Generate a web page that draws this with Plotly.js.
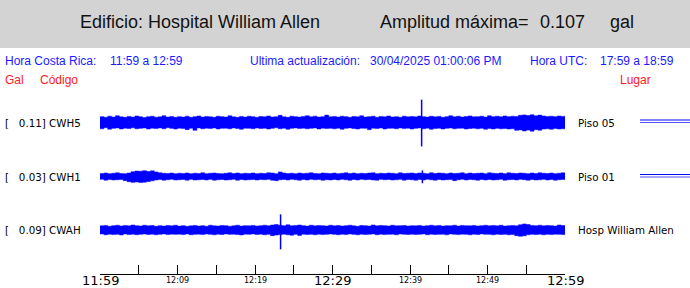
<!DOCTYPE html>
<html>
<head>
<meta charset="utf-8">
<script src="https://cdn.plot.ly/plotly-3.0.1.min.js"></script>
<style>html,body{margin:0;padding:0;background:#fff;}#chart{width:690px;height:288px;}</style>
</head>
<body>
<div id="chart"></div>
<script>
// ---- DATA (time in minutes after 11:59, amplitudes in mgal) ----
const stationCodes = ["CWH5", "CWH1", "CWAH"];
const stationMax = ["0.11", "0.03", "0.09"];
const stationPlaces = ["Piso 05", "Piso 01", "Hosp William Allen"];
const sampleStepMin = 0.5;

const cwh5Upper = [27,24,29,25,31,26,24,28,25,30,26,23,27,29,24,26,31,25,28,24,27,
  25,29,24,27,30,25,28,26,24,29,27,25,31,26,24,28,25,29,27,24,
  28,26,30,25,27,33,26,24,29,27,25,28,31,26,29,25,27,34,26,28,
  25,29,27,24,28,26,31,25,27,29,24,28,26,30,25,27,24,29,26,28,
  26,30,27,25,29,26,28,24,27,31,26,29,25,28,30,26,27,29,25,31,
  27,29,26,30,27,29,28,33,35,32,36,31,34,30,28,29,27,30,28,31];
const cwh5Lower = [-26,-29,-24,-31,-27,-25,-30,-26,-28,-24,-29,-27,-25,-30,-26,-28,-25,-29,-24,-27,-30,
  -26,-28,-33,-27,-36,-25,-29,-26,-28,-25,-30,-27,-26,-29,-25,-28,-31,-26,-27,-29,
  -25,-28,-26,-30,-27,-24,-29,-26,-31,-27,-25,-28,-26,-29,-27,-25,-30,-26,-28,-27,
  -29,-26,-31,-27,-25,-28,-30,-26,-27,-33,-26,-28,-25,-30,-27,-26,-29,-25,-28,-26,
  -30,-27,-25,-29,-26,-31,-28,-26,-30,-27,-25,-29,-27,-26,-30,-28,-26,-29,-27,-31,
  -28,-30,-27,-29,-28,-30,-29,-36,-34,-39,-35,-40,-33,-36,-30,-29,-31,-28,-30,-29];

const cwh1Upper = [14,16,13,15,17,14,13,16,22,25,24,27,23,26,21,17,15,14,16,13,15,
  14,16,13,15,14,17,13,15,16,14,13,15,17,14,16,13,15,14,16,13,
  15,14,17,16,13,21,16,14,15,13,16,14,15,17,14,13,16,15,14,16,
  13,15,17,14,16,13,15,14,16,17,13,15,14,16,15,13,17,14,15,16,
  14,16,15,13,17,14,16,15,13,16,14,15,17,13,16,14,15,16,13,17,
  15,14,16,13,17,15,14,16,15,13,16,14,17,15,14,16,13,15,17,16];
const cwh1Lower = [-15,-13,-17,-14,-16,-15,-14,-19,-24,-27,-25,-28,-26,-23,-20,-16,-14,-17,-15,-13,-16,
  -15,-14,-17,-13,-16,-15,-14,-16,-13,-17,-15,-14,-16,-15,-13,-17,-14,-16,-15,-14,
  -16,-14,-15,-13,-17,-19,-15,-14,-16,-13,-15,-17,-14,-16,-13,-15,-14,-17,-15,-16,
  -14,-16,-13,-15,-17,-14,-16,-13,-15,-14,-16,-17,-13,-15,-14,-16,-15,-13,-17,-14,
  -15,-17,-14,-16,-13,-15,-17,-14,-16,-15,-14,-19,-15,-13,-16,-14,-15,-17,-14,-16,
  -14,-16,-15,-13,-17,-15,-14,-16,-13,-15,-17,-14,-16,-15,-13,-16,-14,-17,-15,-14];

const cwahUpper = [19,21,17,20,22,18,21,19,23,20,18,22,19,21,17,20,18,21,19,22,18,
  20,17,19,21,18,20,17,22,19,18,21,20,17,19,22,18,20,19,21,18,
  20,22,19,23,25,22,20,24,19,21,23,20,18,22,19,21,20,18,22,19,
  21,18,20,22,19,17,21,20,18,23,19,21,20,18,22,19,20,21,18,20,
  19,21,18,20,22,19,21,18,20,19,22,18,21,20,19,21,18,20,22,19,
  21,19,22,18,20,21,19,24,28,25,21,20,22,19,21,20,18,23,21,20];
const cwahLower = [-20,-18,-22,-19,-21,-20,-23,-18,-21,-19,-22,-20,-18,-21,-19,-22,-20,-18,-21,-19,-20,
  -19,-21,-18,-22,-20,-19,-21,-18,-20,-22,-19,-21,-18,-20,-19,-21,-23,-19,-20,-18,
  -21,-19,-22,-20,-26,-23,-21,-19,-22,-24,-20,-25,-19,-21,-20,-22,-19,-21,-20,-18,
  -20,-22,-19,-21,-18,-20,-22,-19,-21,-20,-18,-22,-19,-21,-20,-19,-22,-18,-20,-21,
  -19,-21,-20,-18,-22,-19,-21,-20,-19,-22,-18,-20,-21,-19,-20,-22,-19,-21,-18,-20,
  -20,-22,-19,-21,-20,-22,-21,-26,-29,-27,-22,-20,-21,-19,-22,-20,-21,-19,-20,-21];

// isolated spikes: time (min), peak up, peak down (mgal)
const spikeTimes = [41.5, 41.6, 23.3];
const spikeUp = [105, 28, 72];
const spikeDown = [-110, -31, -89];

const tickVals = [0, 10, 20, 30, 40, 50, 60];
const tickLabels = ["11:59", "12:09", "12:19", "12:29", "12:39", "12:49", "12:59"];
const majorTicks = ["11:59", "12:29", "12:59"];

// ---- LAYOUT HELPERS ----
const W = 690, H = 288, ML = 100, MR = 125, MT = 90, MB = 14;
const PW = W - ML - MR, PH = H - MT - MB;
const px = x => (x - ML) / PW;
const py = y => 1 - (y - MT) / PH;
const mgalPerPx = 4.6;
const yTop = PH * mgalPerPx;
const baseY = [122.5, 176.5, 230]; // pixel rows of trace baselines
const offsets = baseY.map(b => yTop - (b - MT) * mgalPerPx);

const uppers = [cwh5Upper, cwh1Upper, cwahUpper];
const lowers = [cwh5Lower, cwh1Lower, cwahLower];
const BLUE = "#0000ff";
const traces = [];
uppers.forEach((up, k) => {
  const lo = lowers[k];
  const t = up.map((_, i) => i * sampleStepMin);
  const xs = t.concat(t.slice().reverse());
  const ys = up.map(v => offsets[k] + v).concat(lo.slice().reverse().map(v => offsets[k] + v));
  traces.push({x: xs, y: ys, type: "scatter", mode: "lines", fill: "toself",
    fillcolor: BLUE, line: {color: BLUE, width: 0.5, shape: "hv"}, hoverinfo: "skip", showlegend: false});
  traces.push({x: [spikeTimes[k], spikeTimes[k]], y: [offsets[k] + spikeUp[k], offsets[k] + spikeDown[k]],
    type: "scatter", mode: "lines", line: {color: BLUE, width: 1.5}, hoverinfo: "skip", showlegend: false});
});

const ann = [];
const A = (text, x, y, size, color, family, anchor) => ann.push({
  text, xref: "paper", yref: "paper", x: px(x), y: py(y), xanchor: anchor || "left", yanchor: "middle",
  showarrow: false, borderpad: 0, font: {size, color, family}});
const SANS = "Liberation Sans, Arial, sans-serif";
const DJ = "DejaVu Sans, sans-serif";
A("Edificio: Hospital William Allen", 79, 22, 18, "#111", SANS);
A("Amplitud máxima=", 379, 22, 18, "#111", SANS);
A("0.107", 539, 22, 18, "#111", SANS);
A("gal", 609, 22, 18, "#111", SANS);
A("Hora Costa Rica:", 4, 61, 12, "#1a1aff", SANS);
A("11:59 a 12:59", 109, 61, 12, "#1a1aff", SANS);
A("Ultima actualización:", 249, 61, 12, "#1a1aff", SANS);
A("30/04/2025 01:00:06 PM", 369, 61, 12, "#1a1aff", SANS);
A("Hora UTC:", 529, 61, 12, "#1a1aff", SANS);
A("17:59 a 18:59", 599, 61, 12, "#1a1aff", SANS);
A("Gal", 4, 80, 12, "#ff1a1a", SANS);
A("Código", 39, 80, 12, "#ff1a1a", SANS);
A("Lugar", 619, 80, 12, "#ff1a1a", SANS);
stationCodes.forEach((c, k) => {
  A("[\u00a0\u00a0\u00a0" + stationMax[k] + "] " + c, 4, baseY[k], 10.3, "#000", DJ);
  A(stationPlaces[k], 577, baseY[k], 10.3, "#000", DJ);
});
tickVals.forEach((v, i) => {
  const big = majorTicks.includes(tickLabels[i]);
  ann.push({text: tickLabels[i], xref: "x", yref: "paper", x: v, y: py(big ? 280.5 : 280),
    xanchor: "center", yanchor: "middle", showarrow: false, borderpad: 0,
    font: {size: big ? 13 : 8, color: "#000", family: DJ}});
});

const shapes = [
  {type: "rect", xref: "paper", yref: "paper", x0: px(0), x1: px(W), y0: py(48), y1: py(0),
    fillcolor: "#d3d3d3", line: {width: 0}, layer: "below"},
];
[[120, 122.5], [174.5, 177]].forEach(pair => pair.forEach((y, j) => shapes.push({
  type: "line", xref: "paper", yref: "paper", x0: px(640), x1: px(W), y0: py(y), y1: py(y),
  line: {color: j ? "#5050ff" : BLUE, width: 1}})));

const layout = {
  width: W, height: H, margin: {l: ML, r: MR, t: MT, b: MB, pad: 0},
  paper_bgcolor: "#fff", plot_bgcolor: "#fff", showlegend: false,
  xaxis: {range: [0, 60], showgrid: false, zeroline: false, showline: true, linecolor: "#000", linewidth: 1,
    ticks: "inside", ticklen: 9, tickcolor: "#000", tickwidth: 1, tick0: 0, dtick: 5, showticklabels: false,
    fixedrange: true},
  yaxis: {range: [0, yTop], visible: false, fixedrange: true},
  annotations: ann, shapes: shapes
};
Plotly.newPlot("chart", traces, layout, {staticPlot: true, displayModeBar: false});
</script>
</body>
</html>
